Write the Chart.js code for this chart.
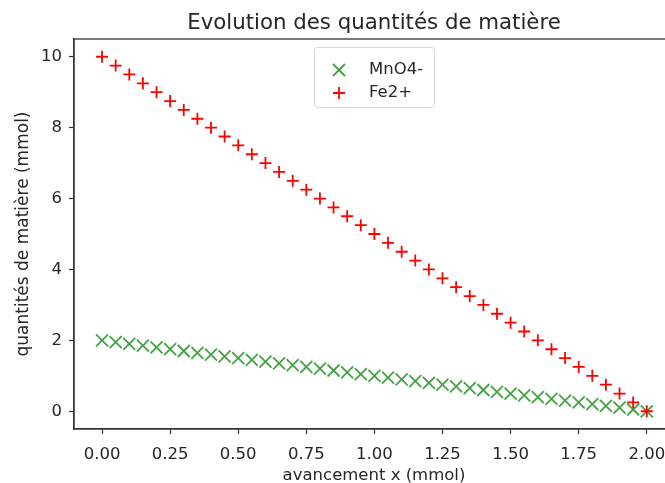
<!DOCTYPE html>
<html>
<head>
<meta charset="utf-8">
<script src="https://cdn.jsdelivr.net/npm/chart.js@4"></script>
<style>
  html, body { margin: 0; padding: 0; background: #fff; overflow: hidden; }
  #wrap { width: 700px; height: 483px; }
</style>
</head>
<body>
<div id="wrap"><canvas id="chartCanvas" width="700" height="483"></canvas></div>
<script>
// avancement x (mmol)
const avancement = [0, 0.05, 0.1, 0.15, 0.2, 0.25, 0.3, 0.35, 0.4, 0.45, 0.5, 0.55, 0.6, 0.65, 0.7, 0.75, 0.8, 0.85, 0.9, 0.95,
    1, 1.05, 1.1, 1.15, 1.2, 1.25, 1.3, 1.35, 1.4, 1.45, 1.5, 1.55, 1.6, 1.65, 1.7, 1.75, 1.8, 1.85, 1.9, 1.95, 2];
// quantités de matière (mmol)
const mno4 = [2, 1.95, 1.9, 1.85, 1.8, 1.75, 1.7, 1.65, 1.6, 1.55, 1.5, 1.45, 1.4, 1.35, 1.3, 1.25, 1.2, 1.15, 1.1, 1.05,
    1, 0.95, 0.9, 0.85, 0.8, 0.75, 0.7, 0.65, 0.6, 0.55, 0.5, 0.45, 0.4, 0.35, 0.3, 0.25, 0.2, 0.15, 0.1, 0.05, 0];
const fe2 = [10, 9.75, 9.5, 9.25, 9, 8.75, 8.5, 8.25, 8, 7.75, 7.5, 7.25, 7, 6.75, 6.5, 6.25, 6, 5.75, 5.5, 5.25,
    5, 4.75, 4.5, 4.25, 4, 3.75, 3.5, 3.25, 3, 2.75, 2.5, 2.25, 2, 1.75, 1.5, 1.25, 1, 0.75, 0.5, 0.25, 0];
const xTicks = [0, 0.25, 0.5, 0.75, 1, 1.25, 1.5, 1.75, 2];
const yTicks = [0, 2, 4, 6, 8, 10];
const chartTitle = 'Evolution des quantités de matière';

const FONT = 'DejaVu Sans';
const TEXT = '#262626';
const GREEN = 'rgba(20,140,20,0.8)';
const RED = '#ff0000';

const toPoints = ys => avancement.map((x, i) => ({ x: x, y: ys[i] }));

// frame round the plot area + title centred over it (matplotlib style)
const framePlugin = {
    id: 'frame',
    afterDraw(chart) {
        const { ctx, chartArea } = chart;
        ctx.save();
        ctx.strokeStyle = '#333';
        ctx.lineWidth = 1.3;
        ctx.strokeRect(chartArea.left, chartArea.top, chartArea.right - chartArea.left, chartArea.bottom - chartArea.top);
        ctx.fillStyle = TEXT;
        ctx.font = '21.3px "' + FONT + '"';
        ctx.textAlign = 'center';
        ctx.textBaseline = 'alphabetic';
        ctx.fillText(chartTitle, (chartArea.left + chartArea.right) / 2, chartArea.top - 10);
        ctx.restore();
    }
};

// boxed legend, upper center
const legendPlugin = {
    id: 'boxLegend',
    afterDraw(chart) {
        const { ctx, chartArea } = chart;
        const w = 120, h = 60;
        const left = (chartArea.left + chartArea.right) / 2 - w / 2;
        const top = chartArea.top + 8;
        ctx.save();
        ctx.fillStyle = 'rgba(255,255,255,0.85)';
        ctx.strokeStyle = '#d6d6d6';
        ctx.lineWidth = 1;
        ctx.beginPath();
        ctx.roundRect(left + 0.5, top + 0.5, w, h, 3);
        ctx.fill();
        ctx.stroke();
        ctx.font = '16.5px "' + FONT + '"';
        ctx.textBaseline = 'middle';
        chart.data.datasets.forEach((ds, i) => {
            const y = top + 23 + i * 23;
            ctx.strokeStyle = ds.borderColor;
            ctx.lineWidth = ds.borderWidth;
            Chart.helpers.drawPoint(ctx, { pointStyle: ds.pointStyle, radius: ds.pointRadius, rotation: 0, borderWidth: ds.borderWidth }, left + 25, y);
            ctx.fillStyle = TEXT;
            ctx.fillText(ds.label, left + 55, y);
        });
        ctx.restore();
    }
};

new Chart(document.getElementById('chartCanvas'), {
    type: 'scatter',
    data: {
        datasets: [
            {
                label: 'MnO4-',
                data: toPoints(mno4),
                pointStyle: 'crossRot',
                pointRadius: 8.5,
                borderColor: GREEN,
                backgroundColor: GREEN,
                borderWidth: 1.8,
                order: 1
            },
            {
                label: 'Fe2+',
                data: toPoints(fe2),
                pointStyle: 'cross',
                pointRadius: 6,
                borderColor: RED,
                backgroundColor: RED,
                borderWidth: 1.8,
                order: 0
            }
        ]
    },
    options: {
        responsive: false,
        animation: false,
        layout: { padding: { left: 0, right: 26, top: 39, bottom: 0 } },
        plugins: {
            legend: { display: false },
            tooltip: { enabled: false },
            title: { display: false }
        },
        scales: {
            x: {
                type: 'linear',
                min: -0.103,
                max: 2.1,
                afterFit: s => { s.height = 54; },
                afterBuildTicks: s => { s.ticks = xTicks.map(v => ({ value: v })); },
                ticks: {
                    color: TEXT,
                    padding: 11,
                    font: { family: FONT, size: 16.5 },
                    callback: v => v.toFixed(2)
                },
                grid: { drawOnChartArea: false, tickLength: 5, tickColor: '#333', tickWidth: 1.2 },
                border: { color: '#333', width: 1.3 },
                title: {
                    display: true,
                    text: 'avancement x (mmol)',
                    color: TEXT,
                    font: { family: FONT, size: 16.5, lineHeight: 1.2 },
                    padding: { top: 0, bottom: -3 }
                }
            },
            y: {
                type: 'linear',
                min: -0.5,
                max: 10.5,
                afterFit: s => { s.width = 74; },
                afterBuildTicks: s => { s.ticks = yTicks.map(v => ({ value: v })); },
                ticks: {
                    color: TEXT,
                    padding: 7,
                    font: { family: FONT, size: 16.5 }
                },
                grid: { drawOnChartArea: false, tickLength: 5, tickColor: '#333', tickWidth: 1.2 },
                border: { color: '#333', width: 1.3 },
                title: {
                    display: true,
                    text: 'quantités de matière (mmol)',
                    color: TEXT,
                    font: { family: FONT, size: 17, lineHeight: 1.2 },
                    padding: { top: 13, bottom: 0 }
                }
            }
        }
    },
    plugins: [framePlugin, legendPlugin]
});
</script>
</body>
</html>
